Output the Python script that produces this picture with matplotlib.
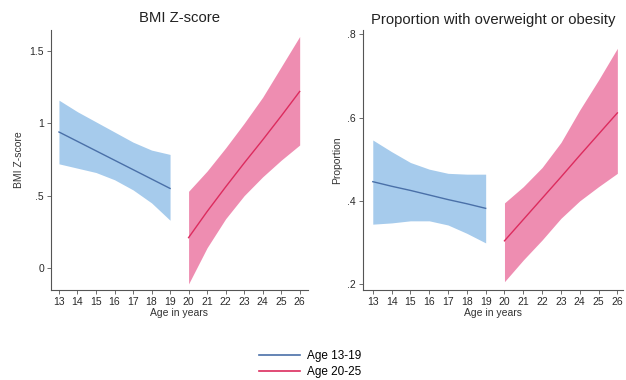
import matplotlib.pyplot as plt
from matplotlib.lines import Line2D

BLUE_FILL = "#a6cbec"
BLUE_LINE = "#4a70a8"
PINK_FILL = "#ee8db1"
PINK_LINE = "#dc2c5e"

# ages
age_young = [13, 14, 15, 16, 17, 18, 19]
age_adult = [20, 21, 22, 23, 24, 25, 26]

# BMI Z-score
bmi_young = [0.94, 0.875, 0.81, 0.745, 0.68, 0.615, 0.55]
bmi_young_hi = [1.16, 1.08, 1.01, 0.94, 0.87, 0.815, 0.785]
bmi_young_lo = [0.72, 0.69, 0.66, 0.61, 0.54, 0.45, 0.33]
bmi_adult = [0.21, 0.39, 0.56, 0.725, 0.885, 1.05, 1.22]
bmi_adult_hi = [0.53, 0.67, 0.83, 1.00, 1.18, 1.39, 1.60]
bmi_adult_lo = [-0.11, 0.14, 0.34, 0.50, 0.63, 0.745, 0.85]

# Proportion with overweight or obesity
prop_young = [0.446, 0.435, 0.425, 0.414, 0.403, 0.393, 0.382]
prop_young_hi = [0.546, 0.518, 0.492, 0.476, 0.466, 0.464, 0.464]
prop_young_lo = [0.344, 0.347, 0.352, 0.352, 0.342, 0.322, 0.299]
prop_adult = [0.304, 0.355, 0.406, 0.457, 0.509, 0.560, 0.611]
prop_adult_hi = [0.395, 0.434, 0.480, 0.540, 0.618, 0.690, 0.766]
prop_adult_lo = [0.206, 0.258, 0.306, 0.358, 0.400, 0.434, 0.466]

x_ticks = list(range(13, 27))
bmi_ticks = [0, 0.5, 1, 1.5]
bmi_tick_labels = ["0", ".5", "1", "1.5"]
prop_ticks = [0.2, 0.4, 0.6, 0.8]
prop_tick_labels = [".2", ".4", ".6", ".8"]

plt.rcParams["font.family"] = ["Liberation Sans", "DejaVu Sans"]

fig = plt.figure(figsize=(6.26, 3.8), dpi=100)
ax1 = fig.add_axes([51 / 626, 90 / 380, 257 / 626, 260 / 380])
ax2 = fig.add_axes([363 / 626, 90 / 380, 260 / 626, 260 / 380])


def draw_panel(ax, young, young_lo, young_hi, adult, adult_lo, adult_hi):
    ax.fill_between(age_young, young_lo, young_hi, color=BLUE_FILL, lw=0)
    ax.plot(age_young, young, color=BLUE_LINE, lw=1)
    ax.fill_between(age_adult, adult_lo, adult_hi, color=PINK_FILL, lw=0)
    ax.plot(age_adult, adult, color=PINK_LINE, lw=1)
    for s in ["top", "right"]:
        ax.spines[s].set_visible(False)
    for s in ["left", "bottom"]:
        ax.spines[s].set_color("#555555")
        ax.spines[s].set_linewidth(0.8)
    ax.set_xticks(x_ticks)
    ax.tick_params(labelsize=7.5, length=3, width=0.6, color="#555555",
                   labelcolor="#2a2a2a", pad=2)
    ax.set_xlabel("Age in years", fontsize=7.5, color="#333333", labelpad=1)


draw_panel(ax1, bmi_young, bmi_young_lo, bmi_young_hi,
           bmi_adult, bmi_adult_lo, bmi_adult_hi)
ax1.set_xlim(12.57, 26.45)
ax1.set_ylim(-0.152, 1.645)
ax1.set_yticks(bmi_ticks, bmi_tick_labels)
ax1.set_ylabel("BMI Z-score", fontsize=7.5, color="#333333", labelpad=4)
ax1.set_title("BMI Z-score", fontsize=10.7, color="#222222", pad=6)

draw_panel(ax2, prop_young, prop_young_lo, prop_young_hi,
           prop_adult, prop_adult_lo, prop_adult_hi)
ax2.set_xlim(12.48, 26.3)
ax2.set_ylim(0.186, 0.81)
ax2.set_yticks(prop_ticks, prop_tick_labels)
ax2.set_ylabel("Proportion", fontsize=7.5, color="#333333", labelpad=4)
ax2.set_title("Proportion with overweight or obesity", fontsize=10.7,
              color="#222222", pad=4)

handles = [Line2D([], [], color=BLUE_LINE, lw=1.2),
           Line2D([], [], color=PINK_LINE, lw=1.2)]
fig.legend(handles, ["Age 13-19", "Age 20-25"], loc="center",
           bbox_to_anchor=(310 / 626, 16 / 380), frameon=False, fontsize=8.5,
           handlelength=3.5, labelspacing=0.3, handletextpad=0.6)

fig.savefig("out.png", dpi=100, facecolor="white")
